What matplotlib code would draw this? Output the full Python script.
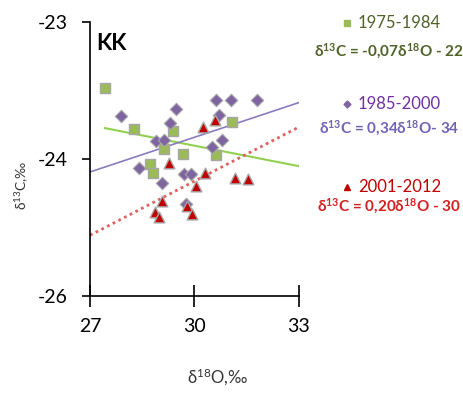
import matplotlib
matplotlib.use("Agg")
import matplotlib.pyplot as plt
import numpy as np

plt.rcParams["font.family"] = ["Lato", "DejaVu Sans"]
plt.rcParams["mathtext.fontset"] = "custom"
plt.rcParams["mathtext.rm"] = "Lato"
plt.rcParams["mathtext.it"] = "Lato:italic"
plt.rcParams["mathtext.bf"] = "Lato:bold"

# d18O / d13C pairs per period
x_7584 = [27.43, 28.27, 29.12, 29.39, 31.09, 29.68, 30.61, 28.72, 28.81]
y_7584 = [-22.97, -23.56, -23.85, -23.59, -23.46, -23.93, -23.95, -24.07, -24.20]

x_8500 = [27.88, 29.46, 29.29, 28.91, 29.12, 30.63, 31.05, 31.81, 30.70, 30.78,
          30.50, 28.40, 29.70, 29.91, 29.08, 29.75]
y_8500 = [-23.37, -23.27, -23.47, -23.74, -23.72, -23.14, -23.14, -23.14, -23.36, -23.72,
          -23.82, -24.13, -24.22, -24.22, -24.35, -24.66]

x_0112 = [30.25, 30.58, 29.28, 30.30, 31.17, 31.53, 30.04, 29.08, 29.80, 28.87, 28.98, 29.94]
y_0112 = [-23.54, -23.43, -24.06, -24.21, -24.28, -24.29, -24.40, -24.62, -24.69, -24.78,
          -24.85, -24.80]

periods = ["1975-1984", "1985-2000", "2001-2012"]
equations = [
    r"δ$\mathbf{^{13}}$C = -0,07δ$\mathbf{^{18}}$O - 22",
    r"δ$\mathbf{^{13}}$C = 0,34δ$\mathbf{^{18}}$O- 34",
    r"δ$\mathbf{^{13}}$C = 0,20δ$\mathbf{^{18}}$O - 30",
]

y_ticks = [-22, -24, -26]
y_ticklabels = ["-23", "-24", "-26"]
x_ticks = [27, 30, 33]

fig = plt.figure(figsize=(4.64, 3.95), dpi=100)
ax = fig.add_axes([0.194, 0.2506, 0.450, 0.6943])

green_fill, green_line, green_txt = "#9BBB59", "#92D050", "#4F6228"
purple_fill, purple_txt = "#7F64A2", "#7062B4"
red_fill, red_line, red_txt = "#C00000", "#E06060", "#D42020"

# trend lines (least squares per period)
for xs, ys, x0, color, ls, lw in [
    (x_7584, y_7584, min(x_7584), green_line, "-", 1.5),
    (x_8500, y_8500, 27, "#8C7BC0", "-", 1.2),
    (x_0112, y_0112, 27, red_line, (0, (1, 1.3)), 2.0),
]:
    k, b = np.polyfit(xs, ys, 1)
    xx = np.array([x0, 33])
    ax.plot(xx, k * xx + b, color=color, ls=ls, lw=lw, zorder=2)

ax.scatter(x_7584, y_7584, marker="s", s=55, color=green_fill, edgecolor="#A6A6A6",
           linewidth=1.0, zorder=3)
ax.scatter(x_8500, y_8500, marker="D", s=40, color=purple_fill, edgecolor="#A6A6A6",
           linewidth=0.8, zorder=3)
ax.scatter(x_0112, y_0112, marker="^", s=60, color=red_fill, edgecolor="#A6A6A6",
           linewidth=1.0, zorder=4)

ax.set_xlim(27, 33)
ax.set_ylim(-26, -22)
ax.set_xticks(x_ticks)
ax.set_yticks(y_ticks)
ax.set_yticklabels(y_ticklabels)
ax.tick_params(axis="x", direction="inout", length=16, width=1.2, labelsize=14, pad=8)
ax.tick_params(axis="y", direction="out", length=6, width=1.2, labelsize=14, pad=10)
for side in ["top", "right"]:
    ax.spines[side].set_visible(False)
for side in ["left", "bottom"]:
    ax.spines[side].set_linewidth(1.2)
ax.patch.set_alpha(0)

ax.text(0.03, 0.92, "KK", transform=ax.transAxes, fontsize=16, fontweight="bold",
        ha="left", va="center")

fig.text(0.047, 0.53, r"δ$^{13}$C,‰", rotation=90, ha="center", va="center",
         fontsize=10, color="#333333")
fig.text(0.468, 0.045, r"δ$^{18}$O,‰", ha="center", va="center", fontsize=12,
         color="#333333")

# legend entries, each with its regression equation
legend_rows = [
    ("s", 4.0, green_fill, green_txt, green_txt, 22.7, 51.7),
    ("D", 3.5, purple_fill, "#7030A0", purple_txt, 104, 128.3),
    ("^", 4.0, red_fill, "#C00000", red_txt, 186.7, 206.7),
]
H = 395.0
for (mk, ms, mc, tc, ec, yp, ye), period, eq in zip(legend_rows, periods, equations):
    fig.lines.append(plt.Line2D([347 / 464], [1 - yp / H], marker=mk, markersize=ms,
                                color=mc, transform=fig.transFigure))
    fig.text(358 / 464, 1 - yp / H, period, color=tc, fontsize=12, ha="left",
             va="center")
    fig.text(389 / 464, 1 - ye / H, eq, color=ec, fontsize=11, fontweight="bold",
             ha="center", va="center")

fig.savefig("out.png", dpi=100)
